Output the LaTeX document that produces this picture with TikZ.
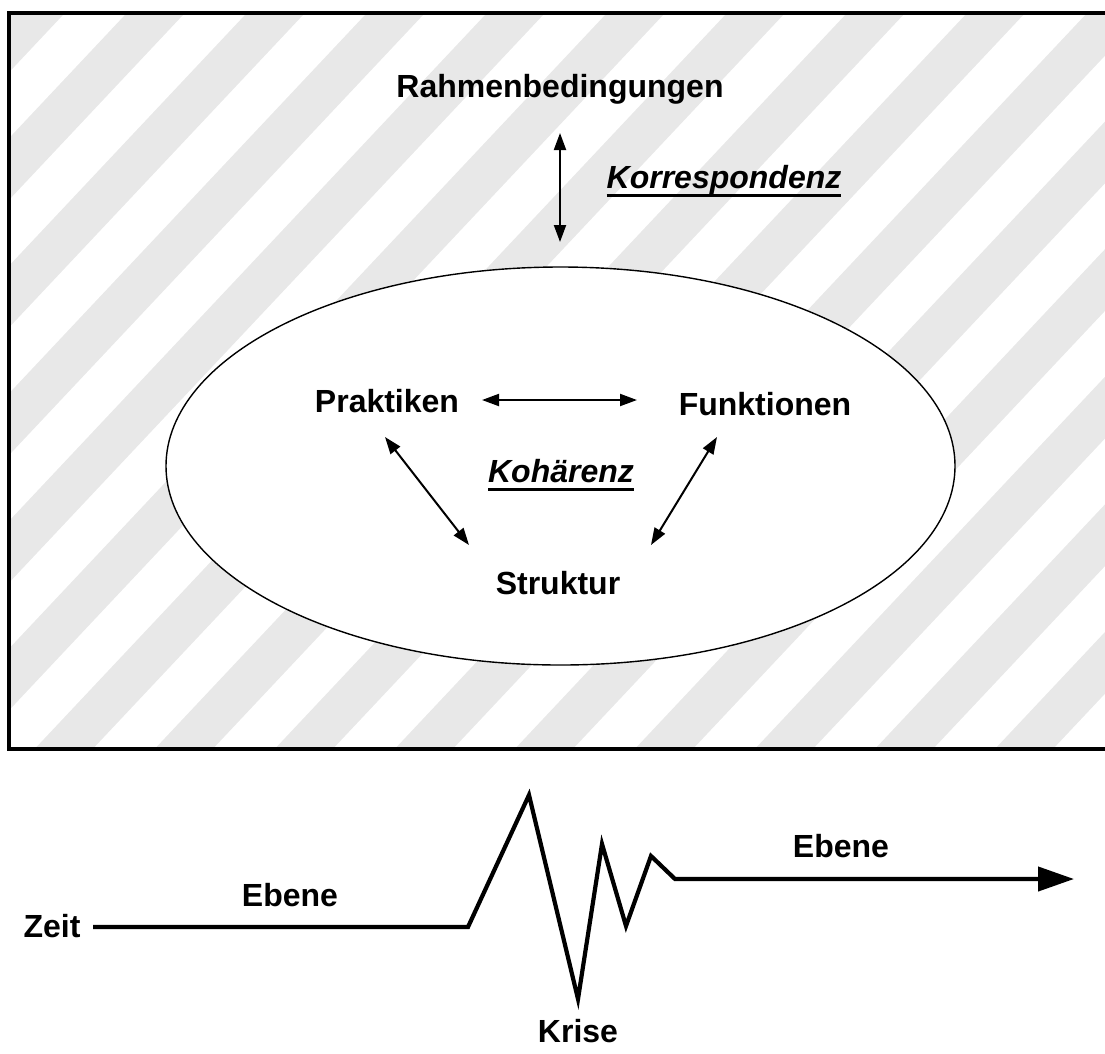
\documentclass[tikz,border=0pt]{standalone}
\usepackage{fontspec}
\setmainfont{Liberation Sans}
\usetikzlibrary{arrows.meta,shapes.geometric}
\definecolor{stripegrey}{RGB}{232,232,232}
\newcommand\ulbox[1]{\setbox0\hbox{#1}\rlap{\rule[-9pt]{\wd0}{3pt}}\box0}
\tikzset{
  lbl/.style={font=\bfseries\fontsize{32}{38}\selectfont, inner sep=0pt, anchor=base},
  ilbl/.style={font=\bfseries\itshape\fontsize{32}{38}\selectfont, inner sep=0pt, anchor=base},
  dbl/.style={line width=2pt, {Triangle[length=17pt,width=12pt]}-{Triangle[length=17pt,width=12pt]}},
  timeline/.style={line width=4.2pt, line join=miter, -{Triangle[length=36pt,width=24pt]}},
  stripe/.style={line width=42.3pt, draw=stripegrey}
}
\begin{document}
\begin{tikzpicture}[x=1pt,y=-1pt]
\useasboundingbox (0,0) rectangle (1105,1053);
% striped background
\begin{scope}
  \clip (9,13) rectangle (1112,749);
  \foreach \c in {-76.55,51.05,178.65,306.25,433.85,561.45,689.05,816.65,944.25,1071.85,1199.45,1327.05,1454.65,1582.25,1709.85,1837.45,1965.05,2092.65}{
    \draw[stripe] ({(\c+20)/1.063},-20) -- ({(\c-800)/1.063},800);
  }
\end{scope}
\draw[line width=4pt] (1112,13) -- (9,13) -- (9,749) -- (1112,749);
% ellipse
\node[draw, fill=white, line width=1.4pt, ellipse, minimum width=789pt, minimum height=398pt, inner sep=0pt] (ell) at (560.5,466) {};
% labels
\node[lbl] (rahmen) at (560,97) {Rahmenbedingungen};
\node[ilbl] (korr) at (724,188) {\ulbox{Korrespondenz}};
\node[lbl] (prak) at (387,412) {Praktiken};
\node[lbl] (funk) at (765,415) {Funktionen};
\node[ilbl] (koh) at (561,482) {\ulbox{Kohärenz}};
\node[lbl] (strukt) at (558,594) {Struktur};
\node[lbl] (zeit) at (52,937) {Zeit};
\node[lbl] (ebene1) at (290,906) {Ebene};
\node[lbl] (ebene2) at (841,857) {Ebene};
\node[lbl] (krise) at (578,1042) {Krise};
% arrow end points
\coordinate (v1) at (560,133);
\coordinate (v2) at (560,242);
\coordinate (h1) at (482,400);
\coordinate (h2) at (637,400);
\coordinate (l1) at (385,437);
\coordinate (l2) at (469,545);
\coordinate (r1) at (717,437);
\coordinate (r2) at (651,545);
\draw[dbl] (v1) -- (v2);
\draw[dbl] (h1) -- (h2);
\draw[dbl] (l1) -- (l2);
\draw[dbl] (r1) -- (r2);
% time line
\coordinate (t0) at (93,927);
\coordinate (t1) at (468,927);
\coordinate (t2) at (529,795);
\coordinate (t3) at (578,999);
\coordinate (t4) at (602,844);
\coordinate (t5) at (626,926);
\coordinate (t6) at (651,856);
\coordinate (t7) at (675,879);
\coordinate (t8) at (1074,879);
\draw[timeline] (t0) -- (t1) -- (t2) -- (t3) -- (t4) -- (t5) -- (t6) -- (t7) -- (t8);
\end{tikzpicture}
\end{document}
